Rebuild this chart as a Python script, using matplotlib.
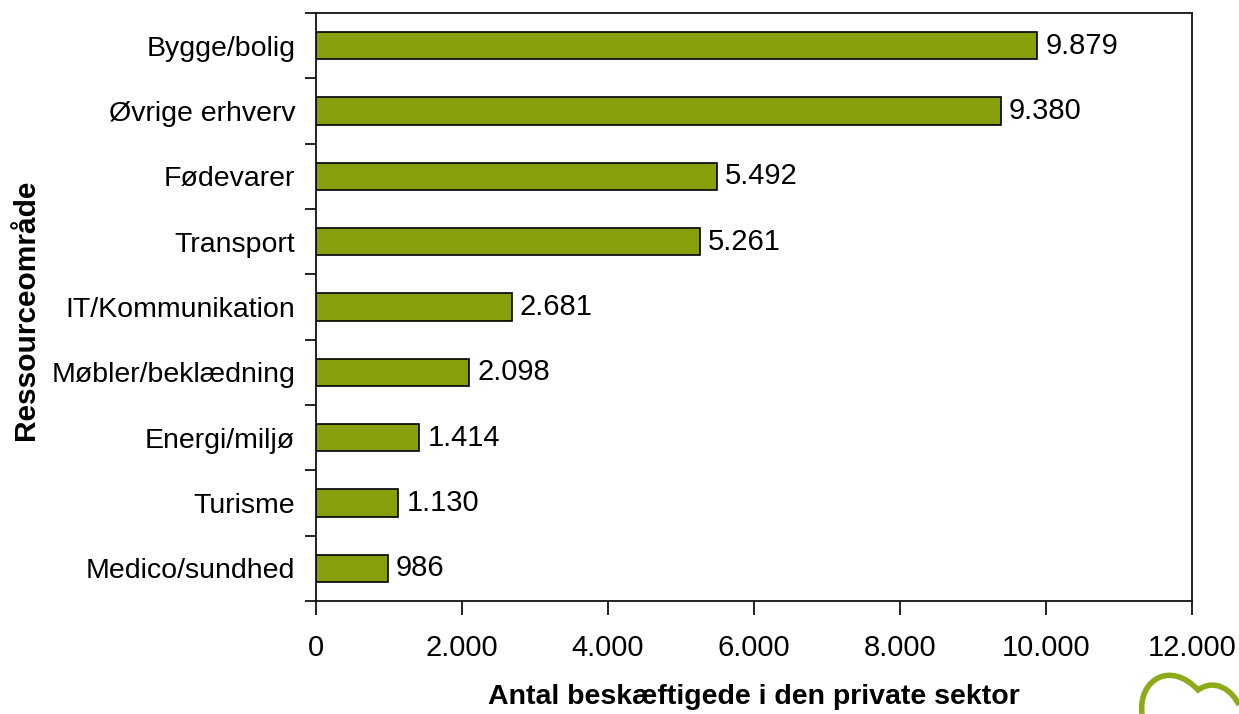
import matplotlib
matplotlib.use("Agg")
import matplotlib.pyplot as plt
from matplotlib.path import Path
from matplotlib.patches import PathPatch

categories = ["Bygge/bolig", "Øvrige erhverv", "Fødevarer", "Transport",
              "IT/Kommunikation", "Møbler/beklædning", "Energi/miljø",
              "Turisme", "Medico/sundhed"]
values = [9879, 9380, 5492, 5261, 2681, 2098, 1414, 1130, 986]
xticks = [0, 2000, 4000, 6000, 8000, 10000, 12000]

plt.rcParams["font.family"] = ["Liberation Sans", "DejaVu Sans"]

def dk(n):
    return f"{n:,}".replace(",", ".")

fig = plt.figure(figsize=(12.39, 7.14), dpi=100)
ax = fig.add_axes([316 / 1239, 1 - 601 / 714, (1192 - 316) / 1239, (601 - 13) / 714])

pos = list(range(len(categories)))[::-1]
ax.barh(pos, values, height=0.42, color="#879F0B", edgecolor="black", linewidth=1.2)
for p, v in zip(pos, values):
    ax.text(v + 110, p, dk(v), va="center", ha="left", fontsize=21)

ax.set_xlim(0, 12000)
ax.set_ylim(-0.5, len(categories) - 0.5)
ax.set_xticks(xticks)
ax.set_xticklabels([dk(t) for t in xticks], fontsize=21)
ax.set_yticks(pos)
ax.set_yticklabels(categories, fontsize=20.5)
ax.tick_params(axis="y", length=0, pad=15)
ax.set_yticks([p - 0.5 for p in range(len(categories) + 1)], minor=True)
ax.tick_params(axis="y", which="minor", length=8, width=1.2, direction="out")
ax.tick_params(axis="x", length=10, width=1.2, direction="out", pad=14)
for s in ax.spines.values():
    s.set_linewidth(1.3)
    s.set_color("#111111")

fig.text(754 / 1239, 1 - 697 / 714, "Antal beskæftigede i den private sektor", fontsize=20.5,
         fontweight="bold", ha="center", va="center")
fig.text(26 / 1239, 1 - 310 / 714, "Ressourceområde", rotation=90, fontsize=21.5,
         fontweight="bold", ha="center", va="center")

# partial logo swirl, bottom right
verts = [(1142 / 1239, 0.0), (1138 / 1239, 1 - 680 / 714), (1170 / 1239, 1 - 660 / 714),
         (1198 / 1239, 1 - 690 / 714), (1215 / 1239, 1 - 678 / 714), (1232 / 1239, 1 - 690 / 714),
         (1239 / 1239, 1 - 705 / 714)]
codes = [Path.MOVETO, Path.CURVE4, Path.CURVE4, Path.CURVE4, Path.CURVE4, Path.CURVE4, Path.CURVE4]
fig.patches.append(PathPatch(Path(verts, codes), transform=fig.transFigure, fill=False,
                             edgecolor="#8DAA1A", linewidth=4, clip_on=False))

fig.savefig("out.png", dpi=100)
